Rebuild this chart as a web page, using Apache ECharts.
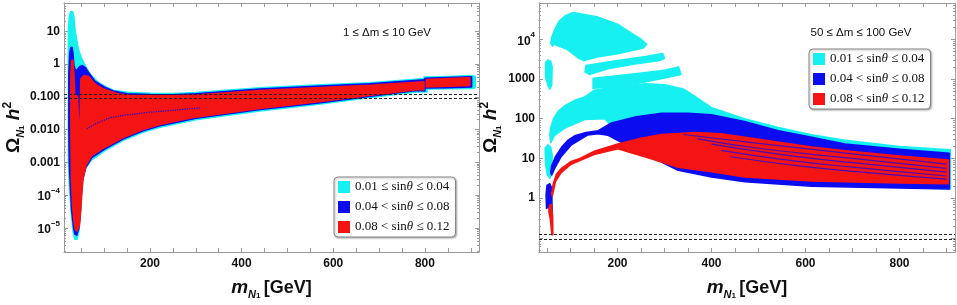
<!DOCTYPE html>
<html>
<head>
<meta charset="utf-8">
<script src="https://cdn.jsdelivr.net/npm/echarts@6/dist/echarts.min.js"></script>
<style>
html, body { margin: 0; padding: 0; background: #fff; }
#chart { width: 957px; height: 305px; }
</style>
</head>
<body>
<div id="chart"></div>
<script>
// 图例 / series names and colours
const seriesNames = ['0.01 ≤ sinθ ≤ 0.04', '0.04 < sinθ ≤ 0.08', '0.08 < sinθ ≤ 0.12'];
const seriesColors = ['#17f0f0', '#0c0cf0', '#f41414'];

// axis ticks
const xTicks = [50, 100, 150, 200, 250, 300, 350, 400, 450, 500, 550, 600, 650, 700, 750, 800, 850, 900];
const xTickLabels = [200, 400, 600, 800];
const leftYTicks = [1e-5, 1e-4, 0.001, 0.01, 0.1, 1, 10];
const leftYLabels = ['{p|10}{s|−5}', '{p|10}{s|−4}', '0.001', '0.010', '0.100', '1', '10'];
const rightYTicks = [1, 10, 100, 1000, 1e4];
const rightYLabels = ['1', '10', '100', '1000', '{p|10}{s|4}'];

// relic density band (dashed lines)
const relicBand = [0.094, 0.124];

// panel annotations
const leftNote = '1 ≤ Δm ≤ 10 GeV';
const rightNote = '50 ≤ Δm ≤ 100 GeV';

// ---- left panel outlines, [m_N1 (GeV), Ωh²] ----
const leftCyan = [
  [[21.8, 0.1], [21.8, 1], [22, 12], [24, 28], [27, 40], [31, 40], [34, 28], [36, 12], [40, 5.5], [44, 2.8],
   [50, 1.6], [55, 1.13], [62, 0.75], [69, 0.51], [80, 0.35], [91, 0.256], [105, 0.2], [120, 0.16], [150, 0.137],
   [200, 0.128], [250, 0.126], [300, 0.135], [440, 0.19], [560, 0.23], [680, 0.27], [800, 0.36], [805, 0.34],
   [805, 0.14], [782, 0.14], [673, 0.092], [564, 0.058], [440, 0.037], [300, 0.02], [222, 0.0117], [185, 0.0083],
   [142, 0.0047], [102, 0.0023], [73, 0.0012], [58, 6e-4], [51, 2.4e-4], [49, 8e-5], [48, 2.5e-5], [45, 8e-6],
   [41, 4.5e-6], [36, 4.5e-6], [32, 8e-6], [28, 3e-5], [24, 2e-4], [22, 1e-3], [21.8, 0.01]],
  [[798, 0.40], [850, 0.42], [900, 0.45], [910, 0.42], [910, 0.19], [900, 0.18], [850, 0.175], [798, 0.17]]
];
const leftBlue = [
  [[23, 0.01], [23, 0.5], [25, 2.2], [27.5, 3.2], [30, 3.2], [32, 2.2], [34, 0.9], [38, 0.6], [42, 0.7], [47, 0.85],
   [53, 0.9], [60, 0.75], [66, 0.55], [80, 0.3], [100, 0.2], [120, 0.15], [150, 0.125], [200, 0.117], [250, 0.116],
   [300, 0.124], [440, 0.173], [560, 0.21], [680, 0.25], [800, 0.33], [800, 0.15], [782, 0.155], [673, 0.1],
   [564, 0.064], [440, 0.041], [300, 0.022], [222, 0.013], [185, 0.0092], [142, 0.0052], [102, 0.0026],
   [73, 0.0014], [60, 7e-4], [53, 2.8e-4], [50, 9e-5], [48, 3e-5], [45, 1e-5], [40, 6e-6], [36, 6.5e-6],
   [33, 1.1e-5], [29, 3.5e-5], [26, 2e-4], [24, 1e-3]],
  [[800, 0.37], [850, 0.39], [902, 0.41], [902, 0.2], [850, 0.19], [800, 0.185]]
];
const leftRed = [
  [[27, 0.05], [27.5, 0.5], [29, 1.3], [32, 1.3], [34, 0.5], [36, 0.12], [42, 0.1], [44.5, 0.015], [47.5, 0.015],
   [49, 0.35], [56, 0.45], [66, 0.42], [80, 0.25], [100, 0.17], [130, 0.125], [160, 0.11], [200, 0.107],
   [250, 0.108], [300, 0.113], [440, 0.155], [560, 0.19], [680, 0.225], [798, 0.29], [798, 0.165], [782, 0.165],
   [673, 0.108], [564, 0.069], [440, 0.044], [300, 0.024], [222, 0.0143], [185, 0.01], [142, 0.0057],
   [102, 0.0029], [73, 0.0016], [61, 8.5e-4], [54, 3.3e-4], [51, 1e-4], [49, 3.5e-5], [46, 1.2e-5], [41, 8e-6],
   [37, 9e-6], [34, 1.6e-5], [31, 5e-5], [28.5, 3e-4], [27.5, 0.003]],
  [[803, 0.34], [850, 0.36], [898, 0.38], [898, 0.22], [850, 0.21], [803, 0.2]]
];
const leftBlueTrace = [[62, 0.0105], [85, 0.016], [113, 0.023], [140, 0.027], [200, 0.034], [260, 0.04], [309, 0.046]];

// ---- right panel outlines ----
const rightCyan = [
  [[47, 2600], [52, 3000], [58, 2800], [61, 2000], [60, 700], [56, 550], [52, 700], [47, 1100]],
  [[58, 7800], [60, 11000], [66, 17000], [75, 28000], [90, 40000], [106, 47000], [156, 37000], [200, 24000],
   [227, 15000], [250, 10000], [262, 7500], [255, 6000], [200, 4300], [160, 3600], [128, 2900], [118, 3300],
   [92, 5600], [66, 7500], [62, 6800]],
  [[131, 1500], [133, 2200], [200, 2900], [260, 3700], [296, 4400], [300, 3300], [290, 2900], [230, 2300],
   [180, 1800], [140, 1300]],
  [[148, 1050], [200, 1200], [260, 1450], [300, 1650], [330, 2000], [335, 1300], [300, 1050], [250, 800],
   [200, 650], [148, 580]],
  [[56, 40], [58, 60], [64, 100], [74, 155], [90, 220], [109, 290], [130, 350], [150, 520], [200, 650],
   [260, 760], [300, 720], [340, 560], [360, 400], [400, 190], [470, 100], [542, 60], [610, 40], [684, 28.5],
   [800, 20], [908, 16.5], [908, 1.7], [700, 2.1], [500, 3.2], [400, 4], [300, 8], [220, 25], [173, 100],
   [130, 95], [88, 58], [66, 38], [58, 25]],
  [[46, 18], [52, 22], [58, 19], [61, 12], [60, 4], [56, 3.2], [51, 3.8], [47, 7]]
];
const rightBlue = [
  [[58, 4.5], [60, 6.5], [68, 11], [81, 19], [95, 29], [109, 37], [130, 44], [159, 50], [187, 78], [240, 112],
   [294, 138], [350, 138], [400, 125], [470, 85], [542, 50], [613, 34], [684, 23], [800, 17], [906, 13.5],
   [906, 1.7], [800, 1.8], [613, 2.0], [471, 2.6], [400, 3.4], [329, 5.0], [258, 13], [201, 28], [180, 38],
   [159, 42], [137, 39], [102, 22], [80, 11], [66, 5.5], [60, 3.8]],
  [[50, 2.1], [56, 2.3], [60, 1.8], [61, 0.45], [58, 0.38], [54, 0.6], [49, 0.55], [48, 1.2]]
];
const rightRed = [
  [[60, 1.3], [63, 2.2], [70, 4], [80, 5.5], [100, 8.2], [120, 10], [152, 15.5], [201, 23], [250, 32], [294, 40],
   [365, 45], [420, 42], [471, 34], [540, 26], [613, 19.4], [700, 15], [800, 11.5], [904, 9.1], [904, 2.3],
   [800, 2.4], [613, 2.7], [471, 3.4], [400, 4.6], [329, 6], [258, 11], [220, 15], [201, 17.5], [150, 12.5],
   [120, 8.8], [100, 7], [80, 4.4], [68, 2.6], [61, 1.1]],
  [[55, 0.65], [59, 0.7], [62, 0.35], [62.5, 0.12], [60.5, 0.12], [57, 0.3], [54, 0.45]]
];
// blue streaks running through the red band (right panel)
const rightStreaks = [
  [[340, 40], [500, 24], [700, 13], [900, 7.2]],
  [[370, 31], [500, 18], [700, 10], [900, 5.6]],
  [[400, 23], [550, 12.5], [700, 7.8], [900, 4.5]],
  [[420, 16], [550, 9.5], [700, 6], [900, 3.6]],
  [[440, 11], [600, 6.2], [750, 4.2], [900, 3]]
];

const frameColor = '#9a9a9a';
const chart = echarts.init(document.getElementById('chart'));

// 对数轴标签
function logLabel(ticks, labels) {
    return function (v) {
        const i = ticks.findIndex(t => Math.abs(Math.log10(t) - Math.log10(v)) < 1e-6);
        return i < 0 ? '' : labels[i];
    };
}

const labelStyle = { fontFamily: 'Liberation Sans', fontWeight: 'bold', fontSize: 12, color: '#111' };
const supRich = {
    p: { fontFamily: 'Liberation Sans', fontWeight: 'bold', fontSize: 12, color: '#111', lineHeight: 16, verticalAlign: 'bottom' },
    s: { fontFamily: 'Liberation Sans', fontWeight: 'bold', fontSize: 8, color: '#111', lineHeight: 9, verticalAlign: 'top' }
};
const nameRich = {
    o: { fontFamily: 'Liberation Sans', fontWeight: 'bold', fontSize: 19, color: '#111', lineHeight: 24 },
    m: { fontFamily: 'Liberation Sans', fontWeight: 'bold', fontStyle: 'italic', fontSize: 19, color: '#111', lineHeight: 24 },
    n: { fontFamily: 'Liberation Sans', fontWeight: 'bold', fontStyle: 'italic', fontSize: 11, color: '#111', lineHeight: 12, verticalAlign: 'bottom' },
    k: { fontFamily: 'Liberation Sans', fontWeight: 'bold', fontSize: 8, color: '#111', lineHeight: 8, verticalAlign: 'bottom' },
    h: { fontFamily: 'Liberation Sans', fontWeight: 'bold', fontStyle: 'italic', fontSize: 19, color: '#111', lineHeight: 24 },
    t: { fontFamily: 'Liberation Sans', fontWeight: 'bold', fontSize: 12, color: '#111', lineHeight: 13, verticalAlign: 'top' },
    g: { fontFamily: 'Liberation Sans', fontWeight: 'bold', fontSize: 18, color: '#111', lineHeight: 24 }
};

function xAxisPair(grid) {
    const base = {
        type: 'value', gridIndex: grid, min: grid === 0 ? 12.4 : 33, max: 918,
        axisLine: { show: true, onZero: false, lineStyle: { color: frameColor } },
        axisTick: { show: true, inside: true, length: 4, customValues: xTicks, lineStyle: { color: frameColor } },
        splitLine: { show: false }
    };
    return [
        Object.assign({}, base, {
            position: 'bottom',
            axisLabel: Object.assign({ customValues: xTickLabels, margin: 6 }, labelStyle),
            name: '{m|m}{n|N}{k|1} {g|[GeV]}', nameLocation: 'middle', nameGap: 24,
            nameTextStyle: { rich: nameRich }
        }),
        Object.assign({}, base, { position: 'top', axisLabel: { show: false } })
    ];
}

function yAxisPair(grid, min, max, ticks, labels, gap) {
    const base = {
        type: 'log', logBase: 10, gridIndex: grid, min: min, max: max,
        axisLine: { show: true, lineStyle: { color: frameColor } },
        axisTick: { show: true, inside: true, length: 4, lineStyle: { color: frameColor } },
        minorTick: { show: true, splitNumber: 9, length: 2, lineStyle: { color: frameColor } },
        splitLine: { show: false }, minorSplitLine: { show: false }
    };
    return [
        Object.assign({}, base, {
            position: 'left',
            axisLabel: Object.assign({ formatter: logLabel(ticks, labels), margin: 4, rich: supRich }, labelStyle),
            name: '{o|Ω}{n|N}{k|1}{h| h}{t|2}', nameLocation: 'middle', nameGap: gap, nameRotate: 90,
            nameTextStyle: { rich: nameRich }
        }),
        Object.assign({}, base, { position: 'right', axisLabel: { show: false } })
    ];
}

// 区域多边形系列
function regionSeries(nameIdx, polys, xi, yi, withBand) {
    const color = seriesColors[nameIdx];
    const s = {
        type: 'custom', name: seriesNames[nameIdx], xAxisIndex: xi, yAxisIndex: yi,
        coordinateSystem: 'cartesian2d', clip: true, silent: true, animation: false,
        itemStyle: { color: color },
        data: polys.map(p => p[0]),
        renderItem: function (params, api) {
            const pts = polys[params.dataIndex].map(p => api.coord(p));
            return {
                type: 'polygon', shape: { points: pts },
                style: { fill: color, stroke: color, lineWidth: 1.5, lineJoin: 'round' }
            };
        }
    };
    if (withBand) {
        s.markLine = {
            silent: true, animation: false, symbol: ['none', 'none'], label: { show: false },
            lineStyle: { color: '#222', type: [3, 2], width: 1 },
            data: relicBand.map(v => ({ yAxis: v }))
        };
    }
    return s;
}

function streakSeries(line, xi, yi) {
    return {
        type: 'line', xAxisIndex: xi, yAxisIndex: yi, data: line, symbol: 'none', silent: true, smooth: true,
        lineStyle: { color: seriesColors[1], width: 1.2, opacity: 0.75 }
    };
}

const legendBase = {
    data: seriesNames, orient: 'vertical', icon: 'rect', itemWidth: 12, itemHeight: 12, itemGap: 6,
    padding: [3, 6, 3, 4], borderColor: '#888', borderWidth: 1, borderRadius: 4, backgroundColor: '#fff',
    shadowBlur: 2, shadowOffsetX: 1, shadowOffsetY: 1, shadowColor: 'rgba(0,0,0,0.3)', selectedMode: false,
    formatter: n => n.replace('θ', '{t|θ}'),
    textStyle: {
        fontFamily: 'Liberation Serif', fontSize: 13, color: '#111', lineHeight: 14,
        rich: { t: { fontFamily: 'Liberation Serif', fontStyle: 'italic', fontSize: 13, color: '#111', lineHeight: 14 } }
    }
};

const option = {
    animation: false,
    grid: [
        { left: 64, top: 3, width: 415, height: 255 },
        { left: 539, top: 3, width: 416, height: 256 }
    ],
    xAxis: xAxisPair(0).concat(xAxisPair(1)),
    yAxis: yAxisPair(0, 1.84e-6, 73, leftYTicks, leftYLabels, 38)
        .concat(yAxisPair(1, 0.044, 81800, rightYTicks, rightYLabels, 36)),
    legend: [
        Object.assign({ left: 334, top: 177 }, legendBase),
        Object.assign({ left: 809, top: 49 }, legendBase)
    ],
    graphic: [
        { type: 'text', x: 387, y: 33, style: { text: leftNote, fontFamily: 'Liberation Sans', fontSize: 11.5, fill: '#111', align: 'center', verticalAlign: 'middle' } },
        { type: 'text', x: 861, y: 33, style: { text: rightNote, fontFamily: 'Liberation Sans', fontSize: 11.5, fill: '#111', align: 'center', verticalAlign: 'middle' } }
    ],
    series: [
        regionSeries(0, leftCyan, 0, 0, false),
        regionSeries(1, leftBlue, 0, 0, false),
        regionSeries(2, leftRed, 0, 0, true),
        {
            type: 'line', xAxisIndex: 0, yAxisIndex: 0, data: leftBlueTrace, symbol: 'none', silent: true,
            lineStyle: { color: seriesColors[1], width: 1.2, type: 'dotted' }
        },
        regionSeries(0, rightCyan, 2, 2, false),
        regionSeries(1, rightBlue, 2, 2, false),
        regionSeries(2, rightRed, 2, 2, true)
    ].concat(rightStreaks.map(l => streakSeries(l, 2, 2)))
};

chart.setOption(option);
</script>
</body>
</html>
